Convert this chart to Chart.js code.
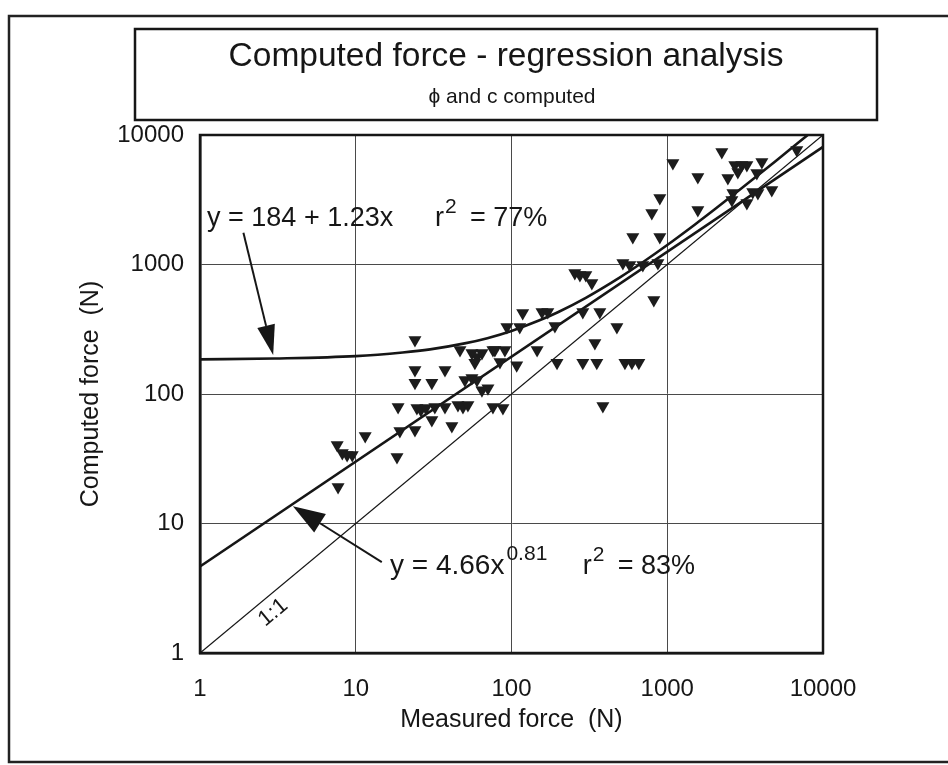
<!DOCTYPE html>
<html>
<head>
<meta charset="utf-8">
<title>Computed force - regression analysis</title>
<script src="https://cdn.jsdelivr.net/npm/chart.js@4.4.0/dist/chart.umd.min.js"></script>
<style>
    html, body { margin: 0; padding: 0; background: #fff; }
    #wrap { width: 948px; height: 765px; }
</style>
</head>
<body>
<div id="wrap"><canvas id="forceChart" width="948" height="765"></canvas></div>
<script>
// Chart texts
const chartTitle = 'Computed force - regression analysis';
const chartSubtitle = '\u03D5 and c computed';
const xAxisTitle = 'Measured force  (N)';
const yAxisTitle = 'Computed force  (N)';

// Decade ticks used on both log axes
const tickValues = [1, 10, 100, 1000, 10000];

// Scatter data (N)
const measuredForce = [7.6, 8.2, 8.8, 9.5, 11.5, 7.7, 18.4, 18.7, 19.2, 24, 24, 24, 24, 30.8, 37.4,
    24.7, 26.2, 28.2, 30.8, 32.2, 37.4, 41.4, 45.3, 48.8, 52.5, 46.7, 55.7, 60, 58.2, 64.6, 76,
    50.2, 55.7, 60, 64.6, 70.6, 76, 88.1, 78.2, 90.7, 84.3, 108, 93.4, 113, 118, 157, 171, 146,
    190, 196, 287, 369, 287, 353, 343, 475, 535, 593, 657, 386, 255, 275, 300, 328, 820, 519,
    575, 697, 871, 601, 896, 796, 896, 1087, 1572, 1572, 2240, 2450, 2715, 3010, 3245, 2840,
    3760, 4050, 2640, 2600, 3245, 3540, 3820, 4690, 6790];
const computedForce = [40.4, 35, 33.8, 33.8, 47.4, 19.1, 32.6, 79.4, 51.8, 52.7, 261, 153, 122, 122, 153,
    78, 75.2, 78, 63, 79.4, 79.4, 56.6, 82.2, 79.4, 82.2, 219, 207, 193, 174, 207, 219,
    128, 133, 128, 107, 111, 79.4, 78, 219, 219, 177, 167, 329, 329, 422, 430, 430, 219,
    335, 174, 430, 430, 174, 174, 248, 329, 174, 174, 174, 80.8, 860, 830, 830, 720, 532, 1027,
    991, 991, 1027, 1630, 1630, 2500, 3260, 6080, 4740, 2640, 7390, 4660, 5870, 5870, 5870, 5180,
    5090, 6190, 3570, 3150, 2985, 3630, 3570, 3760, 7660];

// Linear fit curve (y = 184 + 1.23x)
const linFitX = [1, 3, 10, 20, 30, 50, 70, 100, 150, 200, 300, 500, 700, 1000, 1500, 2000, 3000, 5000, 7980];
const linFitY = [185, 188, 196, 209, 221, 246, 270, 307, 369, 430, 553, 799, 1045, 1414, 2029, 2644, 3874, 6334, 10000];

// Power fit line (y = 4.66x^0.81), straight on log-log
const powFitX = [1, 10000];
const powFitY = [4.66, 8090];

// 1:1 reference line
const oneToOneX = [1, 10000];
const oneToOneY = [1, 10000];

const FONT = '"Liberation Sans", Arial, Helvetica, sans-serif';
const INK = '#161616';

function toPoints(xs, ys) {
    return xs.map((x, i) => ({ x: x, y: ys[i] }));
}

function drawArrow(ctx, x1, y1, x2, y2, headLen, headHalf) {
    const ang = Math.atan2(y2 - y1, x2 - x1);
    const bx = x2 - Math.cos(ang) * headLen;
    const by = y2 - Math.sin(ang) * headLen;
    ctx.beginPath();
    ctx.moveTo(x1, y1);
    ctx.lineTo(bx, by);
    ctx.stroke();
    ctx.beginPath();
    ctx.moveTo(x2, y2);
    ctx.lineTo(bx + Math.sin(ang) * headHalf, by - Math.cos(ang) * headHalf);
    ctx.lineTo(bx - Math.sin(ang) * headHalf, by + Math.cos(ang) * headHalf);
    ctx.closePath();
    ctx.fill();
}

// draws "r²  = value" style text starting at x
function drawRSquared(ctx, x, y, value) {
    ctx.font = '27px ' + FONT;
    ctx.fillText('r', x, y);
    const rw = ctx.measureText('r').width;
    ctx.font = '21px ' + FONT;
    ctx.fillText('2', x + rw + 1, y - 11);
    ctx.font = '27px ' + FONT;
    ctx.fillText('= ' + value, x + rw + 26, y);
}

/**
 * Title box, frame, plot border and regression annotations
 */
const chartDecor = {
    id: 'chartDecor',
    beforeDraw(chart) {
        const ctx = chart.ctx;
        ctx.save();
        ctx.fillStyle = '#fff';
        ctx.fillRect(0, 0, chart.width, chart.height);

        // outer frame of the figure
        ctx.strokeStyle = '#222';
        ctx.lineWidth = 2.5;
        ctx.strokeRect(9, 16, 960, 746);

        // title box
        ctx.lineWidth = 2.5;
        ctx.strokeStyle = INK;
        ctx.strokeRect(135, 29, 742, 91);

        ctx.fillStyle = INK;
        ctx.textAlign = 'center';
        ctx.textBaseline = 'middle';
        ctx.font = '33.5px ' + FONT;
        ctx.fillText(chartTitle, 506, 57);
        ctx.font = '21px ' + FONT;
        ctx.fillText(chartSubtitle, 512, 97);
        ctx.restore();
    },
    afterDatasetsDraw(chart) {
        const ctx = chart.ctx;
        const xs = chart.scales.x;
        const ys = chart.scales.y;
        const area = chart.chartArea;
        const px = v => xs.getPixelForValue(v);
        const py = v => ys.getPixelForValue(v);

        ctx.save();
        // plot border
        ctx.strokeStyle = INK;
        ctx.lineWidth = 2.5;
        ctx.strokeRect(area.left, area.top, area.right - area.left, area.bottom - area.top);

        ctx.fillStyle = INK;
        ctx.strokeStyle = INK;
        ctx.textAlign = 'left';
        ctx.textBaseline = 'middle';

        // linear fit label + arrow
        ctx.font = '27px ' + FONT;
        ctx.fillText('y = 184 + 1.23x', px(1.11), py(2280));
        drawRSquared(ctx, px(32.3), py(2280), '77%');
        ctx.lineWidth = 2;
        drawArrow(ctx, px(1.9), py(1760), px(2.95), py(200), 30, 9);

        // power fit label + arrow
        ctx.font = '28px ' + FONT;
        const eqLeft = px(16.6);
        const eqY = py(4.69);
        ctx.fillText('y = 4.66x', eqLeft, eqY);
        const eqW = ctx.measureText('y = 4.66x').width;
        ctx.font = '21px ' + FONT;
        ctx.fillText('0.81', eqLeft + eqW + 2, eqY - 12);
        drawRSquared(ctx, px(287), eqY, '83%');
        ctx.lineWidth = 2;
        drawArrow(ctx, px(14.7), py(5.04), px(3.95), py(13.6), 32, 11);

        // 1:1 label along the reference line
        ctx.save();
        ctx.translate(px(2.95), py(2.05));
        ctx.rotate(-Math.atan2(py(1) - py(10), px(10) - px(1)));
        ctx.textAlign = 'center';
        ctx.font = '22px ' + FONT;
        ctx.fillText('1:1', 0, 0);
        ctx.restore();

        ctx.restore();
    }
};

function decadeTicks(axis) {
    axis.ticks = tickValues.map(v => ({ value: v }));
}

const lineStyle = {
    type: 'line',
    showLine: true,
    pointRadius: 0,
    borderColor: INK,
    fill: false,
    tension: 0
};

const config = {
    type: 'scatter',
    data: {
        datasets: [
            {
                label: 'Data',
                data: toPoints(measuredForce, computedForce),
                pointStyle: 'triangle',
                rotation: 180,
                pointRadius: 7.5,
                backgroundColor: '#1c1c1c',
                borderWidth: 0
            },
            Object.assign({}, lineStyle, {
                label: 'Linear fit',
                data: toPoints(linFitX, linFitY),
                borderWidth: 2.6,
                cubicInterpolationMode: 'monotone'
            }),
            Object.assign({}, lineStyle, {
                label: 'Power fit',
                data: toPoints(powFitX, powFitY),
                borderWidth: 2.6
            }),
            Object.assign({}, lineStyle, {
                label: '1:1',
                data: toPoints(oneToOneX, oneToOneY),
                borderWidth: 1.3
            })
        ]
    },
    options: {
        responsive: false,
        animation: false,
        events: [],
        layout: {
            padding: { left: 72, right: 125, top: 135, bottom: 26 }
        },
        plugins: {
            legend: { display: false },
            tooltip: { enabled: false },
            title: { display: false }
        },
        scales: {
            x: {
                type: 'logarithmic',
                min: 1,
                max: 10000,
                afterBuildTicks: decadeTicks,
                afterFit: scale => { scale.height = 86; },
                grid: { color: '#4a4a4a', lineWidth: 1, drawTicks: false },
                border: { display: true, color: INK, width: 2.5 },
                ticks: {
                    autoSkip: false,
                    maxRotation: 0,
                    padding: 22,
                    color: INK,
                    font: { family: FONT, size: 24 },
                    callback: value => String(value)
                },
                title: {
                    display: true,
                    text: xAxisTitle,
                    color: INK,
                    padding: 4,
                    font: { family: FONT, size: 25 }
                }
            },
            y: {
                type: 'logarithmic',
                min: 1,
                max: 10000,
                afterBuildTicks: decadeTicks,
                afterFit: scale => { scale.width = 128; },
                grid: { color: '#4a4a4a', lineWidth: 1, drawTicks: false },
                border: { display: true, color: INK, width: 2.5 },
                ticks: {
                    autoSkip: false,
                    padding: 16,
                    color: INK,
                    font: { family: FONT, size: 24 },
                    callback: value => String(value)
                },
                title: {
                    display: true,
                    text: yAxisTitle,
                    color: INK,
                    padding: 4,
                    font: { family: FONT, size: 25 }
                }
            }
        }
    },
    plugins: [chartDecor]
};

const forceChart = new Chart(document.getElementById('forceChart'), config);
</script>
</body>
</html>
